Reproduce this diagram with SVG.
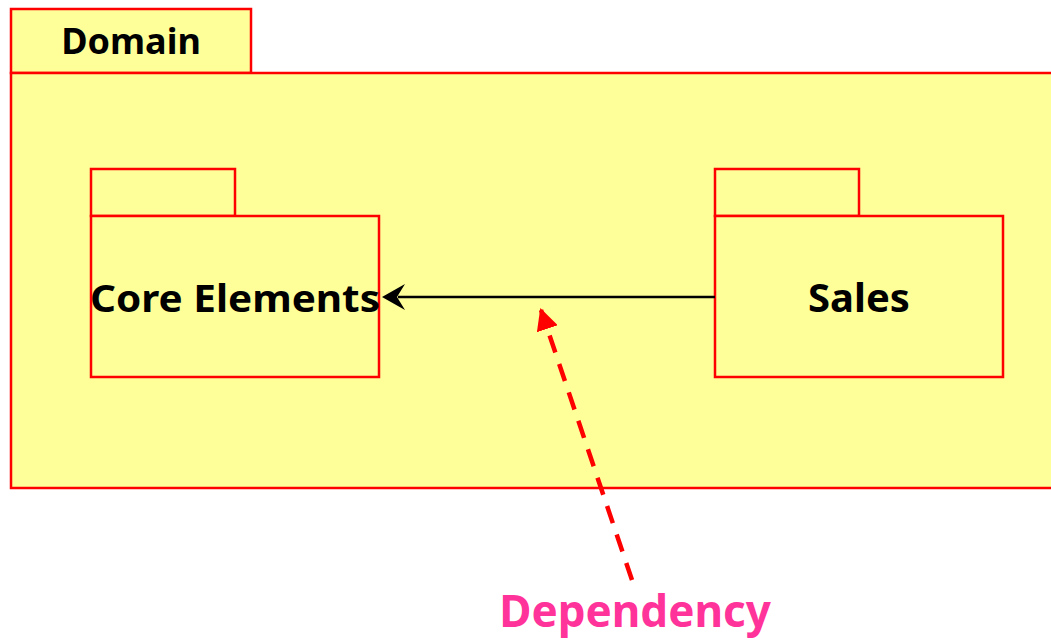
<svg xmlns="http://www.w3.org/2000/svg" width="1051" height="640" viewBox="0 0 1051 640">
<style>
.pkg{fill:#FFFF99;stroke:#FF0000;stroke-width:2.5}
.lbl{font-family:"Noto Sans","Open Sans",sans-serif;font-weight:bold;fill:#000}
.note{font-family:"Noto Sans","Open Sans",sans-serif;font-weight:bold;fill:#FF3399}
</style>
<defs>
<marker id="redhead" viewBox="0 0 20 20" refX="18" refY="10" markerWidth="22" markerHeight="22" markerUnits="userSpaceOnUse" orient="auto">
<path d="M20,10 L0,0 L0,20 Z" fill="#FF0000"/>
</marker>
</defs>
<rect width="1051" height="640" fill="#fff"/>
<g id="domain">
<rect class="pkg" x="11" y="9" width="240" height="64"/>
<rect class="pkg" x="11" y="73" width="1050" height="415"/>
<text class="lbl" x="131" y="54" font-size="36" text-anchor="middle">Domain</text>
</g>
<g id="core">
<rect class="pkg" x="91" y="169" width="144" height="47"/>
<rect class="pkg" x="91" y="216" width="288" height="161"/>
<text class="lbl" x="235" y="312" font-size="38" text-anchor="middle" textLength="290" lengthAdjust="spacingAndGlyphs">Core Elements</text>
</g>
<g id="sales">
<rect class="pkg" x="715" y="169" width="144" height="47"/>
<rect class="pkg" x="715" y="216" width="288" height="161"/>
<text class="lbl" x="859" y="312" font-size="40" text-anchor="middle">Sales</text>
</g>
<g id="connectors">
<line x1="715" y1="297" x2="398" y2="297" stroke="#000" stroke-width="2.5"/>
<path d="M382,297 L405,284 L397,297 L405,310 Z" fill="#000"/>
<line x1="632" y1="580" x2="541" y2="310" stroke="#FF0000" stroke-width="4.5" stroke-dasharray="18,12" marker-end="url(#redhead)"/>
</g>
<g id="note">
<text class="note" x="635" y="627" font-size="44" text-anchor="middle">Dependency</text>
</g>
</svg>
